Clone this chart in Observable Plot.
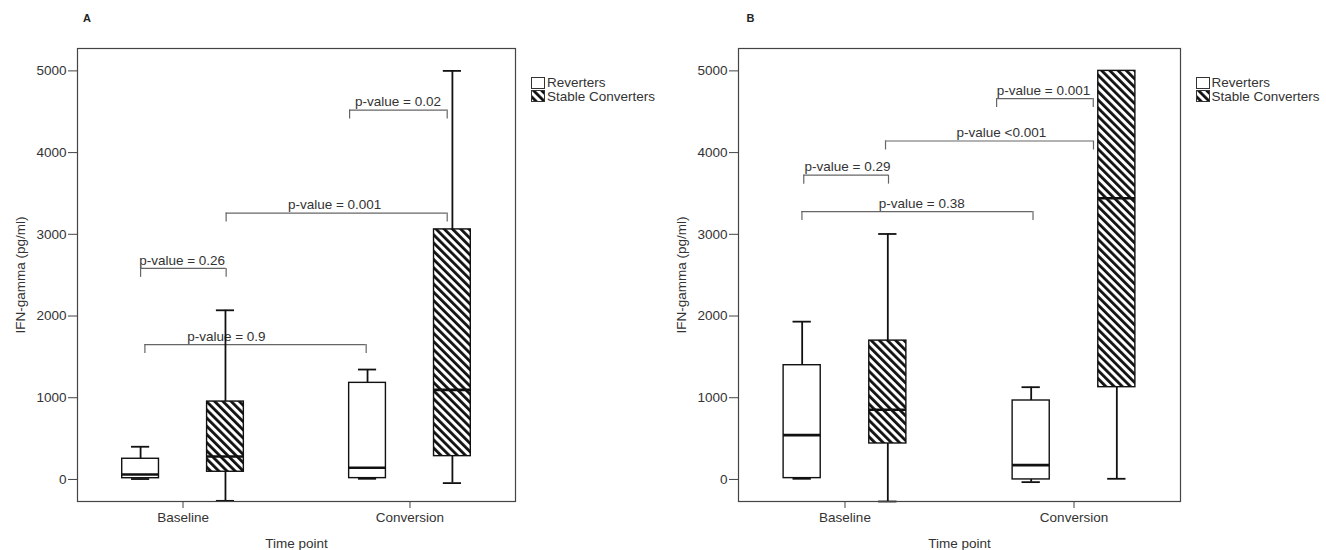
<!DOCTYPE html>
<html><head><meta charset="utf-8">
<script src="https://cdn.jsdelivr.net/npm/d3@7"></script>
<script src="https://cdn.jsdelivr.net/npm/@observablehq/plot@0.6"></script>
<style>
body{margin:0;background:#fff;}
#wrap{position:relative;width:1326px;height:550px;overflow:hidden;font-family:"Liberation Sans",Arial,sans-serif;color:#333;background:#fff;}
.panel{position:absolute;top:0;}
.tag{position:absolute;font-size:11px;font-weight:bold;transform:translate(-50%,-50%);color:#222;}
.legend{position:absolute;font-size:13.5px;line-height:13.5px;}
.legend div{display:flex;align-items:center;white-space:nowrap;height:13.5px;}
.legend svg{margin-right:2px;display:block;}
</style></head><body>
<svg width="0" height="0" style="position:absolute"><defs>
<pattern id="hatch" patternUnits="userSpaceOnUse" width="5.8" height="5.8" patternTransform="rotate(-45)">
<rect width="5.8" height="5.8" fill="#fff"/><rect width="2.8" height="5.8" fill="#111"/></pattern>
</defs></svg>
<div id="wrap"></div>
<script>
// ---- data ----
const timePoints = ["Baseline", "Conversion"];
const groups = ["Reverters", "Stable Converters"];
const yTicks = [0, 1000, 2000, 3000, 4000, 5000];
// boxes in order: Baseline-Reverters, Baseline-Stable, Conversion-Reverters, Conversion-Stable
const boxTime = [0, 0, 1, 1];
const boxGroup = [0, 1, 0, 1];

// Panel A
const aWhiskerLow  = [5, -262, 8, -45];
const aQ1          = [15, 94, 16, 285];
const aMedian      = [61, 281, 143, 1096];
const aQ3          = [253, 953, 1182, 3060];
const aWhiskerHigh = [400, 2070, 1345, 5000];
const aBracketLabels = ["p-value = 0.02", "p-value = 0.001", "p-value = 0.26", "p-value = 0.9"];
const aBracketValue  = [4520, 3260, 2583, 1650];
const aBracketFrom   = [0.734, 0.19, -0.187, -0.168];
const aBracketTo     = [1.164, 1.164, 0.19, 0.807];
const aBracketText   = [0.947, 0.668, -0.004, 0.191];

// Panel B
const bWhiskerLow  = [8, -270, -33, 8];
const bQ1          = [16, 440, 0, 1129];
const bMedian      = [542, 852, 175, 3442];
const bQ3          = [1398, 1699, 966, 5000];
const bWhiskerHigh = [1931, 3004, 1129, 5000];
const bBracketLabels = ["p-value = 0.001", "p-value <0.001", "p-value = 0.29", "p-value = 0.38"];
const bBracketValue  = [4661, 4142, 3724, 3278];
const bBracketFrom   = [0.662, 0.177, -0.18, -0.188];
const bBracketTo     = [1.084, 1.085, 0.19, 0.821];
const bBracketText   = [0.867, 0.683, 0.011, 0.335];

// ---- layout constants ----
const OFF = 0.187, HW = 0.081, CAP = 0.04, DROP = 110;

function makePlot(p) {
  const boxes = p.q1.map((_, i) => ({
    g: boxGroup[i],
    x: boxTime[i] + (boxGroup[i] === 0 ? -OFF : OFF),
    lo: p.lo[i], q1: p.q1[i], med: p.med[i], q3: p.q3[i], hi: p.hi[i]
  }));
  const brackets = p.labels.map((label, i) => ({label, x1: p.from[i], x2: p.to[i], y: p.val[i], lx: p.text[i]}));
  const ends = brackets.flatMap(b => [{x: b.x1, y: b.y}, {x: b.x2, y: b.y}]);
  const boxStyle = {x1: d => d.x - HW, x2: d => d.x + HW, y1: "q1", y2: "q3", stroke: "#111", strokeWidth: 1.4};
  return Plot.plot({
    width: p.width, height: 550,
    marginLeft: p.ml, marginRight: p.mr, marginTop: 48, marginBottom: 49,
    x: {domain: [-0.465, 1.465]},
    y: {domain: [-270, 5274]},
    style: {fontFamily: '"Liberation Sans", Arial, sans-serif', fontSize: "13.5px", color: "#333", background: "transparent", overflow: "visible"},
    marks: [
      Plot.axisY({ticks: yTicks, tickFormat: d => String(d), tickSize: 9, tickPadding: 2, stroke: "#444",
        label: "IFN-gamma (pg/ml)", labelAnchor: "center", labelOffset: 62, labelArrow: "none"}),
      Plot.axisX({ticks: [0, 1], tickFormat: i => timePoints[i], tickSize: 7, tickPadding: 4, stroke: "#444",
        label: "Time point", labelAnchor: "center", labelOffset: 46, labelArrow: "none"}),
      Plot.ruleY(brackets, {y: "y", x1: "x1", x2: "x2", stroke: "#666", strokeWidth: 1.2}),
      Plot.ruleX(ends, {x: "x", y1: "y", y2: d => d.y - DROP, stroke: "#666", strokeWidth: 1.2}),
      Plot.text(brackets, {x: "lx", y: "y", text: "label", dy: -8, fill: "#333"}),
      Plot.ruleX(boxes, {x: "x", y1: "lo", y2: "hi", stroke: "#111", strokeWidth: 1.8}),
      Plot.ruleY(boxes, {y: "lo", x1: d => d.x - CAP, x2: d => d.x + CAP, stroke: "#111", strokeWidth: 1.8}),
      Plot.ruleY(boxes, {y: "hi", x1: d => d.x - CAP, x2: d => d.x + CAP, stroke: "#111", strokeWidth: 1.8}),
      Plot.rect(boxes.filter(d => d.g === 0), {...boxStyle, fill: "white"}),
      Plot.rect(boxes.filter(d => d.g === 1), {...boxStyle, fill: "url(#hatch)"}),
      Plot.ruleY(boxes, {y: "med", x1: d => d.x - HW, x2: d => d.x + HW, stroke: "#111", strokeWidth: 2.6}),
      Plot.frame({stroke: "#444", strokeWidth: 1.2})
    ]
  });
}

function makePanel(p) {
  const div = document.createElement("div");
  div.className = "panel";
  div.style.left = p.left + "px";
  div.style.width = p.width + "px";
  div.style.height = "550px";
  div.appendChild(makePlot(p));
  const tag = document.createElement("div");
  tag.className = "tag";
  tag.textContent = p.tag;
  tag.style.left = p.tagX + "px";
  tag.style.top = "17.5px";
  div.appendChild(tag);
  const leg = document.createElement("div");
  leg.className = "legend";
  leg.style.left = p.legX + "px";
  leg.style.top = "76px";
  groups.forEach((g, i) => {
    const row = document.createElement("div");
    row.innerHTML = `<svg width="14" height="12"><rect x="0.5" y="0.5" width="13" height="11" fill="${i === 0 ? "white" : "url(#hatch)"}" stroke="#333" stroke-width="1"/></svg><span>${g}</span>`;
    leg.appendChild(row);
  });
  div.appendChild(leg);
  return div;
}

const wrap = document.getElementById("wrap");
wrap.appendChild(makePanel({
  left: 0, width: 660, ml: 77, mr: 145, tag: "A", tagX: 87, legX: 531,
  lo: aWhiskerLow, q1: aQ1, med: aMedian, q3: aQ3, hi: aWhiskerHigh,
  labels: aBracketLabels, val: aBracketValue, from: aBracketFrom, to: aBracketTo, text: aBracketText
}));
wrap.appendChild(makePanel({
  left: 660, width: 666, ml: 78, mr: 146, tag: "B", tagX: 90.5, legX: 535.5,
  lo: bWhiskerLow, q1: bQ1, med: bMedian, q3: bQ3, hi: bWhiskerHigh,
  labels: bBracketLabels, val: bBracketValue, from: bBracketFrom, to: bBracketTo, text: bBracketText
}));
</script>
</body></html>
